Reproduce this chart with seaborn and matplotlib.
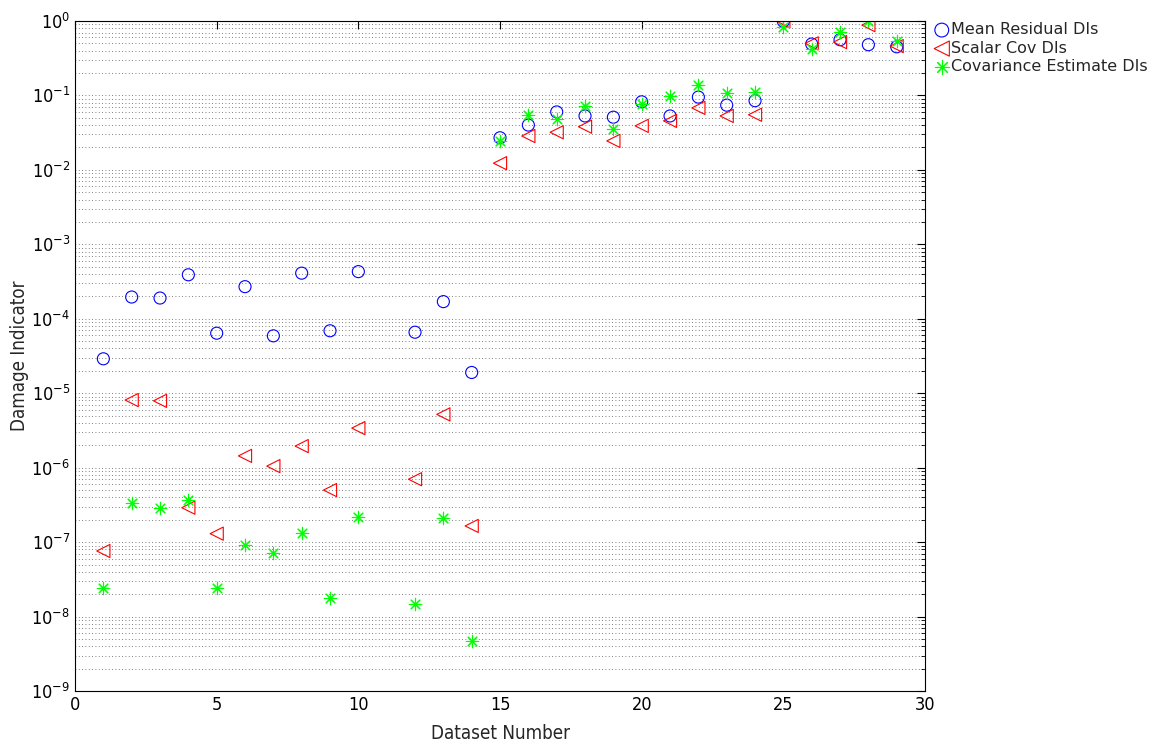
import matplotlib
matplotlib.use("Agg")
import matplotlib.pyplot as plt
import matplotlib.ticker as mticker
import numpy as np
import pandas as pd
import seaborn as sns

datasets = [1, 2, 3, 4, 5, 6, 7, 8, 9, 10, 12, 13, 14, 15, 16, 17, 18, 19, 20,
            21, 22, 23, 24, 25, 26, 27, 28, 29]

mean_residual = [2.9e-5, 1.96e-4, 1.9e-4, 3.9e-4, 6.4e-5, 2.7e-4, 5.9e-5, 4.1e-4,
                 6.9e-5, 4.3e-4, 6.6e-5, 1.7e-4, 1.9e-5,
                 0.027, 0.040, 0.060, 0.053, 0.051, 0.082, 0.053, 0.095, 0.074,
                 0.085, 0.99, 0.49, 0.56, 0.48, 0.45]

scalar_cov = [7.6e-8, 8.1e-6, 7.9e-6, 2.9e-7, 1.3e-7, 1.44e-6, 1.05e-6, 1.95e-6,
              5.0e-7, 3.4e-6, 7.0e-7, 5.2e-6, 1.65e-7,
              0.0123, 0.0285, 0.032, 0.038, 0.0245, 0.039, 0.0455, 0.068, 0.053,
              0.055, 0.99, 0.50, 0.52, 0.88, 0.46]

cov_estimate = [2.4e-8, 3.4e-7, 2.9e-7, 3.7e-7, 2.4e-8, 9.1e-8, 7.1e-8, 1.32e-7,
                1.8e-8, 2.2e-7, 1.48e-8, 2.1e-7, 4.7e-9,
                0.0245, 0.055, 0.048, 0.072, 0.0355, 0.077, 0.098, 0.138, 0.108,
                0.111, 0.83, 0.42, 0.71, 0.99, 0.54]

series_names = ["Mean Residual DIs", "Scalar Cov DIs", "Covariance Estimate DIs"]

sns.set_style("white")
plt.rcParams['font.family'] = ['DejaVu Sans']
plt.rcParams['font.stretch'] = 'condensed'
plt.rcParams['mathtext.fontset'] = 'custom'
plt.rcParams['mathtext.rm'] = 'DejaVu Sans:stretch=condensed'

fig = plt.figure(figsize=(11.54, 7.44), dpi=100)
ax = fig.add_axes([0.065, 0.0712, 0.7366, 0.9006])

sns.scatterplot(x=datasets, y=mean_residual, ax=ax, marker='o', s=75,
                facecolor='none', edgecolor='#0000ff', linewidth=0.8,
                label=series_names[0])
sns.scatterplot(x=datasets, y=scalar_cov, ax=ax, marker='<', s=90,
                facecolor='none', edgecolor='#ff0000', linewidth=0.8,
                label=series_names[1])
sns.scatterplot(x=datasets, y=cov_estimate, ax=ax, marker=(8, 2, 0), s=80,
                color='#00ff00', edgecolor='#00ff00', linewidth=0.8,
                label=series_names[2])

ax.set_yscale('log')
ax.set_xlim(0, 30)
ax.set_ylim(1e-9, 1e0)
ax.set_xticks([0, 5, 10, 15, 20, 25, 30])
ax.yaxis.set_major_locator(mticker.LogLocator(base=10, numticks=20))
ax.yaxis.set_minor_locator(mticker.LogLocator(base=10, subs=np.arange(2, 10), numticks=20))
ax.yaxis.set_minor_formatter(mticker.NullFormatter())

ax.yaxis.grid(True, which='both', linestyle=(0, (1, 3)), color='#555555', linewidth=0.6)
ax.xaxis.grid(False)
ax.set_axisbelow(True)

ax.tick_params(axis='both', which='both', direction='in', top=True, right=True,
               labelsize=13, colors='black')
ax.tick_params(axis='both', which='major', length=6)
ax.tick_params(axis='y', which='minor', length=3)
for sp in ax.spines.values():
    sp.set_color('black')
    sp.set_linewidth(0.8)

ax.set_xlabel("Dataset Number", fontsize=13.5, labelpad=7)
ax.set_ylabel("Damage Indicator", fontsize=13.5, labelpad=2)

leg = ax.legend(loc='upper left', bbox_to_anchor=(0.999, 1.01), frameon=False,
                prop={'family': 'DejaVu Sans', 'stretch': 'normal', 'size': 11.5},
                handletextpad=0.0, labelspacing=0.22, borderaxespad=0.1,
                handlelength=1.2, markerscale=1.15)

fig.savefig("out.png", dpi=100)
